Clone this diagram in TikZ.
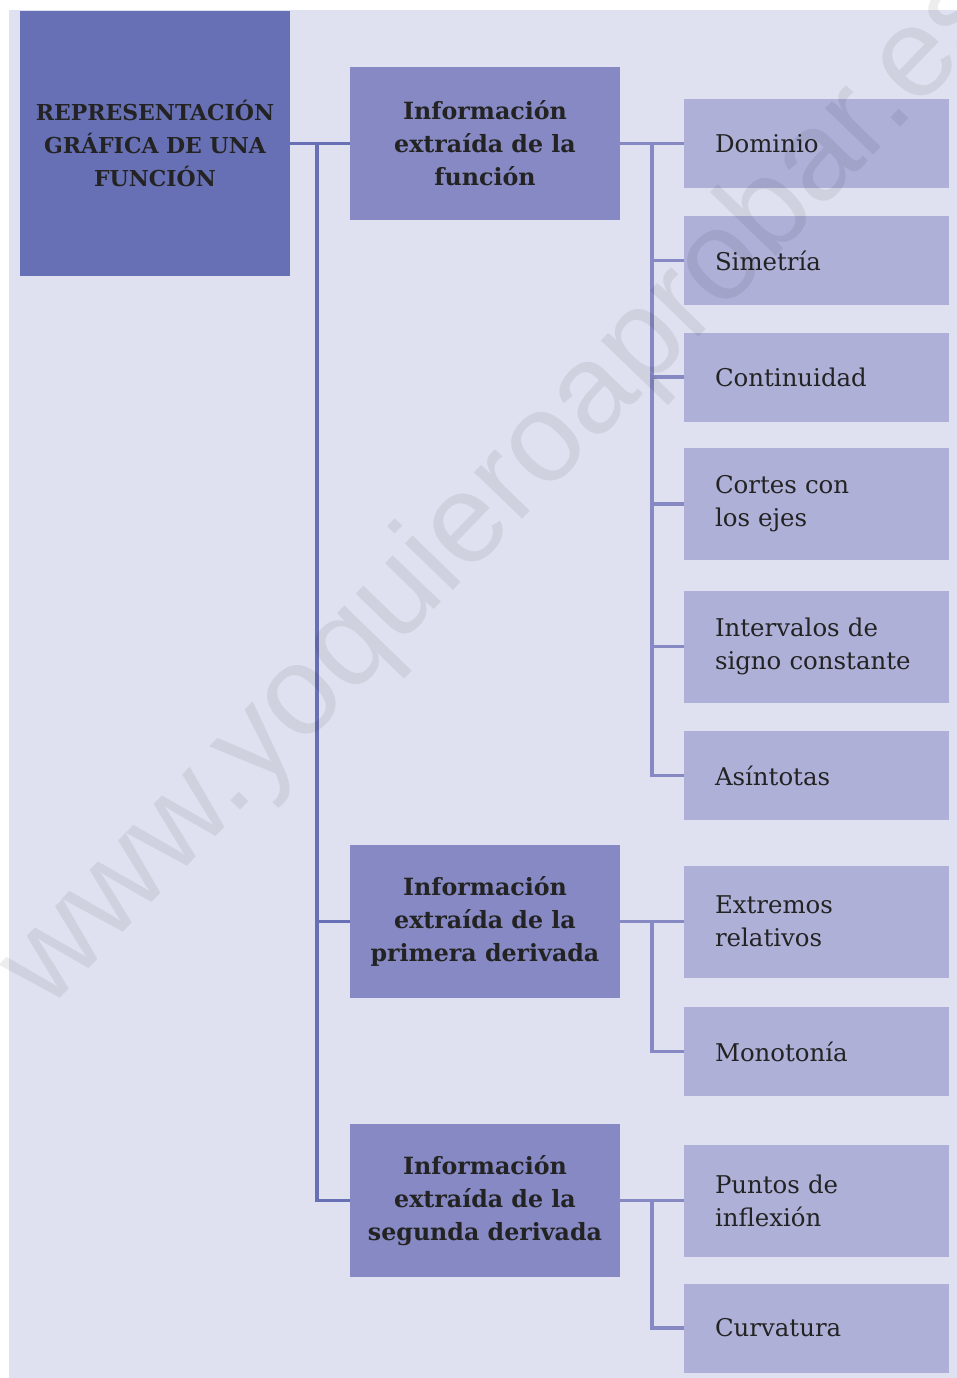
\documentclass[tikz,border=0pt]{standalone}
\usepackage{fontspec}
\setmainfont{DejaVu Serif}
\newfontfamily\wmfont{Liberation Sans}
\usepackage{xcolor}
\usepackage{tikz}
\usetikzlibrary{positioning,calc}

\definecolor{bgpanel}{HTML}{DFE1F0}
\definecolor{rootblue}{HTML}{6870B5}
\definecolor{infoblue}{HTML}{8689C3}
\definecolor{leafblue}{HTML}{AEB0D8}
\definecolor{txtdark}{HTML}{232323}

\begin{document}
\begin{tikzpicture}[
    root/.style={rectangle, fill=rootblue, text=txtdark, minimum width=5.4cm, minimum height=5.3cm, align=center, font=\bfseries\fontsize{12.5}{18.8}\selectfont},
    info/.style={rectangle, fill=infoblue, text=txtdark, minimum width=5.4cm, minimum height=3.06cm, align=center, font=\bfseries\fontsize{13.5}{18.8}\selectfont},
    leaf/.style={rectangle, fill=leafblue, text=txtdark, text width=4.06cm, inner xsep=0.62cm, minimum height=1.78cm, align=left, font=\fontsize{13.9}{18.8}\selectfont},
    tall/.style={minimum height=2.24cm},
    trunk/.style={draw=rootblue, line width=2.2pt},
    branch/.style={draw=infoblue, line width=1.8pt}
]
    \useasboundingbox (0,0) rectangle (19.14,-27.56);
    % Panel
    \fill[bgpanel] (0.18,-0.2) rectangle (19.14,-27.56);

    % Root
    \node[root] (rep) at (3.1,-2.87) {REPRESENTACIÓN\\GRÁFICA DE UNA\\FUNCIÓN};

    % Second level
    \node[info] (funcion) at (9.7,-2.87) {Información\\extraída de la\\función};
    \node[info] (primera) at (9.7,-18.43) {Información\\extraída de la\\primera derivada};
    \node[info] (segunda) at (9.7,-24.01) {Información\\extraída de la\\segunda derivada};

    % Leaves - funcion
    \node[leaf] (dominio) at (16.33,-2.87) {Dominio};
    \node[leaf] (simetria) at (16.33,-5.21) {Simetría};
    \node[leaf] (continuidad) at (16.33,-7.54) {Continuidad};
    \node[leaf, tall] (cortes) at (16.33,-10.08) {Cortes con\\los ejes};
    \node[leaf, tall] (intervalos) at (16.33,-12.93) {Intervalos de\\signo constante};
    \node[leaf] (asintotas) at (16.33,-15.51) {Asíntotas};

    % Leaves - derivadas
    \node[leaf, tall] (extremos) at (16.33,-18.43) {Extremos\\relativos};
    \node[leaf] (monotonia) at (16.33,-21.03) {Monotonía};
    \node[leaf, tall] (puntos) at (16.33,-24.01) {Puntos de\\inflexión};
    \node[leaf] (curvatura) at (16.33,-26.56) {Curvatura};

    % Trunk
    \coordinate (tr) at (6.34,-2.87);
    \draw[trunk] (rep.east) -- (funcion.west);
    \draw[trunk] (tr) |- (segunda.west);
    \draw[trunk] (tr |- primera.west) -- (primera.west);

    % Branches
    \coordinate (s1) at (13.04,-2.87);
    \draw[branch] (funcion.east) -- (dominio.west);
    \draw[branch] (s1) |- (asintotas.west);
    \foreach \n in {simetria,continuidad,cortes,intervalos}
        \draw[branch] (s1 |- \n.west) -- (\n.west);

    \coordinate (s2) at (13.04,-18.43);
    \draw[branch] (primera.east) -- (extremos.west);
    \draw[branch] (s2) |- (monotonia.west);

    \coordinate (s3) at (13.04,-24.01);
    \draw[branch] (segunda.east) -- (puntos.west);
    \draw[branch] (s3) |- (curvatura.west);

    % Watermark
    \node[rotate=46, font=\wmfont\fontsize{72}{72}\selectfont, text=black, opacity=0.07] (wm) at (10.1,-9.8) {www.yoquieroaprobar.es};
\end{tikzpicture}
\end{document}
